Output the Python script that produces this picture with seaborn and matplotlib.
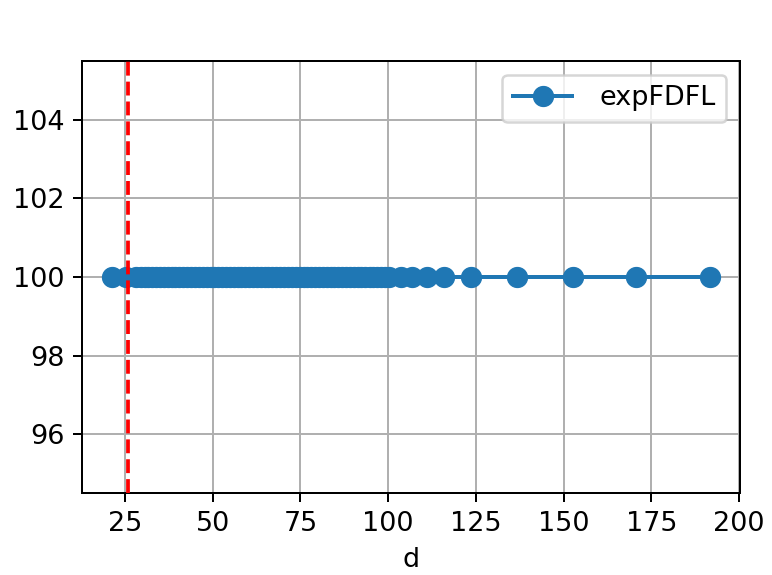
import numpy as np
import pandas as pd
import seaborn as sns
import matplotlib
matplotlib.use("Agg")
import matplotlib.pyplot as plt
from matplotlib.ticker import MultipleLocator

# d values (dense in the middle, sparse at the end)
d_vals = [21.3, 25.4, 28.3, 29.5, 30.6, 31.7, 32.8, 33.9, 35.0, 36.1, 37.2,
          38.3, 39.4, 40.5, 41.6, 42.7, 43.8, 44.9, 46.0, 47.2, 48.3, 49.4,
          50.5, 51.6, 52.7, 53.8, 54.9, 56.0, 57.1, 58.2, 59.3, 60.4, 61.5,
          62.6, 63.7, 64.8, 65.9, 67.0, 68.1, 69.2, 70.3, 71.5, 72.6, 73.7,
          74.8, 75.9, 77.0, 78.1, 79.2, 80.3, 81.4, 82.5, 83.6, 84.7, 85.8,
          86.9, 88.0, 89.1, 90.2, 91.3, 92.4, 93.5, 94.7, 95.8, 96.9, 98.0,
          99.1, 100.2, 103.6, 106.8, 111.1, 115.9, 123.7, 136.8, 152.6,
          170.6, 191.7]
acc_vals = [100.0] * len(d_vals)
d_cut = 26
series_name = "expFDFL"

df = pd.DataFrame({"d": d_vals, "acc": acc_vals})

plt.rcParams["font.size"] = 10.8
fig = plt.figure(figsize=(772 / 180, 575 / 180), dpi=180)
ax = fig.add_axes([0.1062, 0.1426, 0.8523, 0.7513])

blue = "#1f77b4"
sns.lineplot(data=df, x="d", y="acc", marker="o", markersize=8,
             markeredgecolor=blue, markeredgewidth=0.5,
             linewidth=1.6, color=blue, label=series_name, ax=ax)
ax.axvline(d_cut, color="red", linestyle="--", linewidth=1.5, zorder=5)

ax.xaxis.set_major_locator(MultipleLocator(25))
ax.yaxis.set_major_locator(MultipleLocator(2))
ax.grid(True)
ax.set_xlabel("d")
ax.set_ylabel("")
ax.legend(loc="upper right", handlelength=2.2, handletextpad=1.0)

plt.savefig("out.png", dpi=180)
